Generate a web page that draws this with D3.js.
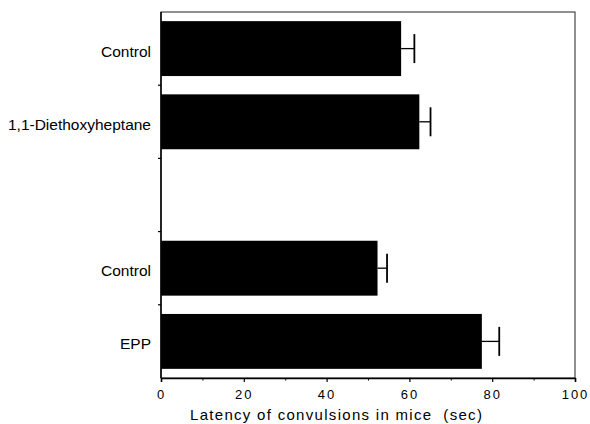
<!DOCTYPE html>
<html>
<head>
<meta charset="utf-8">
<script src="https://cdn.jsdelivr.net/npm/d3@7"></script>
<style>
	body { margin: 0; background: #fff; }
	svg { display: block; font-family: "Liberation Sans", Arial, sans-serif; }
</style>
</head>
<body>
<div id="chart"></div>
<script>
// group labels, "" is the empty slot between the two experiments
var groups = ["Control", "1,1-Diethoxyheptane", "", "Control", "EPP"];
var latency = [58, 62.4, null, 52.3, 77.5];
var latencyErr = [3.2, 2.7, null, 2.3, 4.2];
var xTicks = [0, 20, 40, 60, 80, 100];
var xMinorTicks = [10, 30, 50, 70, 90];

var width = 590, height = 424;
var margin = {top: 12, right: 15, bottom: 46, left: 161};

var svg = d3.select("#chart").append("svg")
	.attr("width", width)
	.attr("height", height);

var x = d3.scaleLinear()
	.domain([0, 100])
	.range([margin.left, width - margin.right]);

var y = d3.scaleBand()
	.domain(d3.range(groups.length))
	.range([margin.top, height - margin.bottom])
	.paddingInner(0.25)
	.paddingOuter(0.125);

var bottom = height - margin.bottom;

// frame
svg.append("rect")
	.attr("x", x(0))
	.attr("y", margin.top)
	.attr("width", x(100) - x(0))
	.attr("height", bottom - margin.top)
	.attr("fill", "none")
	.attr("stroke", "#222")
	.attr("stroke-width", 1);

// bars
var rows = d3.range(groups.length).filter(function(i) {
	return latency[i] != null;
});

svg.selectAll("rect.bar")
	.data(rows)
	.enter()
	.append("rect")
	.attr("class", "bar")
	.attr("x", x(0))
	.attr("y", function(i) { return y(i); })
	.attr("width", function(i) { return x(latency[i]) - x(0); })
	.attr("height", y.bandwidth())
	.attr("fill", "#000");

// error bars
var err = svg.selectAll("g.err")
	.data(rows)
	.enter()
	.append("g")
	.attr("class", "err")
	.attr("stroke", "#000");

err.append("line")
	.attr("x1", function(i) { return x(latency[i]); })
	.attr("x2", function(i) { return x(latency[i] + latencyErr[i]); })
	.attr("y1", function(i) { return y(i) + y.bandwidth() / 2; })
	.attr("y2", function(i) { return y(i) + y.bandwidth() / 2; })
	.attr("stroke-width", 1.3);

err.append("line")
	.attr("x1", function(i) { return x(latency[i] + latencyErr[i]); })
	.attr("x2", function(i) { return x(latency[i] + latencyErr[i]); })
	.attr("y1", function(i) { return y(i) + y.bandwidth() / 2 - 14.5; })
	.attr("y2", function(i) { return y(i) + y.bandwidth() / 2 + 14.5; })
	.attr("stroke-width", 1.8);

// x axis
var xAxis = svg.append("g")
	.attr("transform", "translate(0," + bottom + ")")
	.call(d3.axisBottom(x).tickValues(xTicks).tickSize(4).tickPadding(8));
xAxis.select(".domain").attr("stroke", "#000").attr("stroke-width", 1.5);
xAxis.selectAll(".tick line").attr("stroke-width", 1.2);
xAxis.selectAll(".tick text")
	.attr("font-size", 13)
	.attr("letter-spacing", "2px")
	.attr("fill", "#000")
	.attr("font-family", "'Liberation Sans', Arial, sans-serif");

svg.append("g")
	.attr("transform", "translate(0," + bottom + ")")
	.call(d3.axisBottom(x).tickValues(xMinorTicks).tickSize(2.5).tickFormat(""))
	.call(function(g) { g.select(".domain").remove(); });

// y axis: ticks on band boundaries
var bounds = d3.range(1, groups.length).map(function(i) {
	return y(i) - y.step() * y.paddingInner() / 2;
});
svg.selectAll("line.ytick")
	.data(bounds)
	.enter()
	.append("line")
	.attr("class", "ytick")
	.attr("x1", x(0) - 3)
	.attr("x2", x(0))
	.attr("y1", function(d) { return d; })
	.attr("y2", function(d) { return d; })
	.attr("stroke", "#000")
	.attr("stroke-width", 1.2);

svg.append("line")
	.attr("x1", x(0))
	.attr("x2", x(0))
	.attr("y1", margin.top)
	.attr("y2", bottom)
	.attr("stroke", "#000")
	.attr("stroke-width", 1.5);

// group labels
svg.selectAll("text.group")
	.data(rows)
	.enter()
	.append("text")
	.attr("class", "group")
	.attr("x", x(0) - 10)
	.attr("y", function(i) { return y(i) + y.bandwidth() / 2 + 8; })
	.attr("text-anchor", "end")
	.attr("font-size", 15.5)
	.text(function(i) { return groups[i]; });

// axis title
svg.append("text")
	.attr("x", 190)
	.attr("y", 420)
	.attr("font-size", 15)
	.attr("letter-spacing", "1.3px")
	.style("white-space", "pre")
	.text("Latency of convulsions in mice  (sec)");
</script>
</body>
</html>
